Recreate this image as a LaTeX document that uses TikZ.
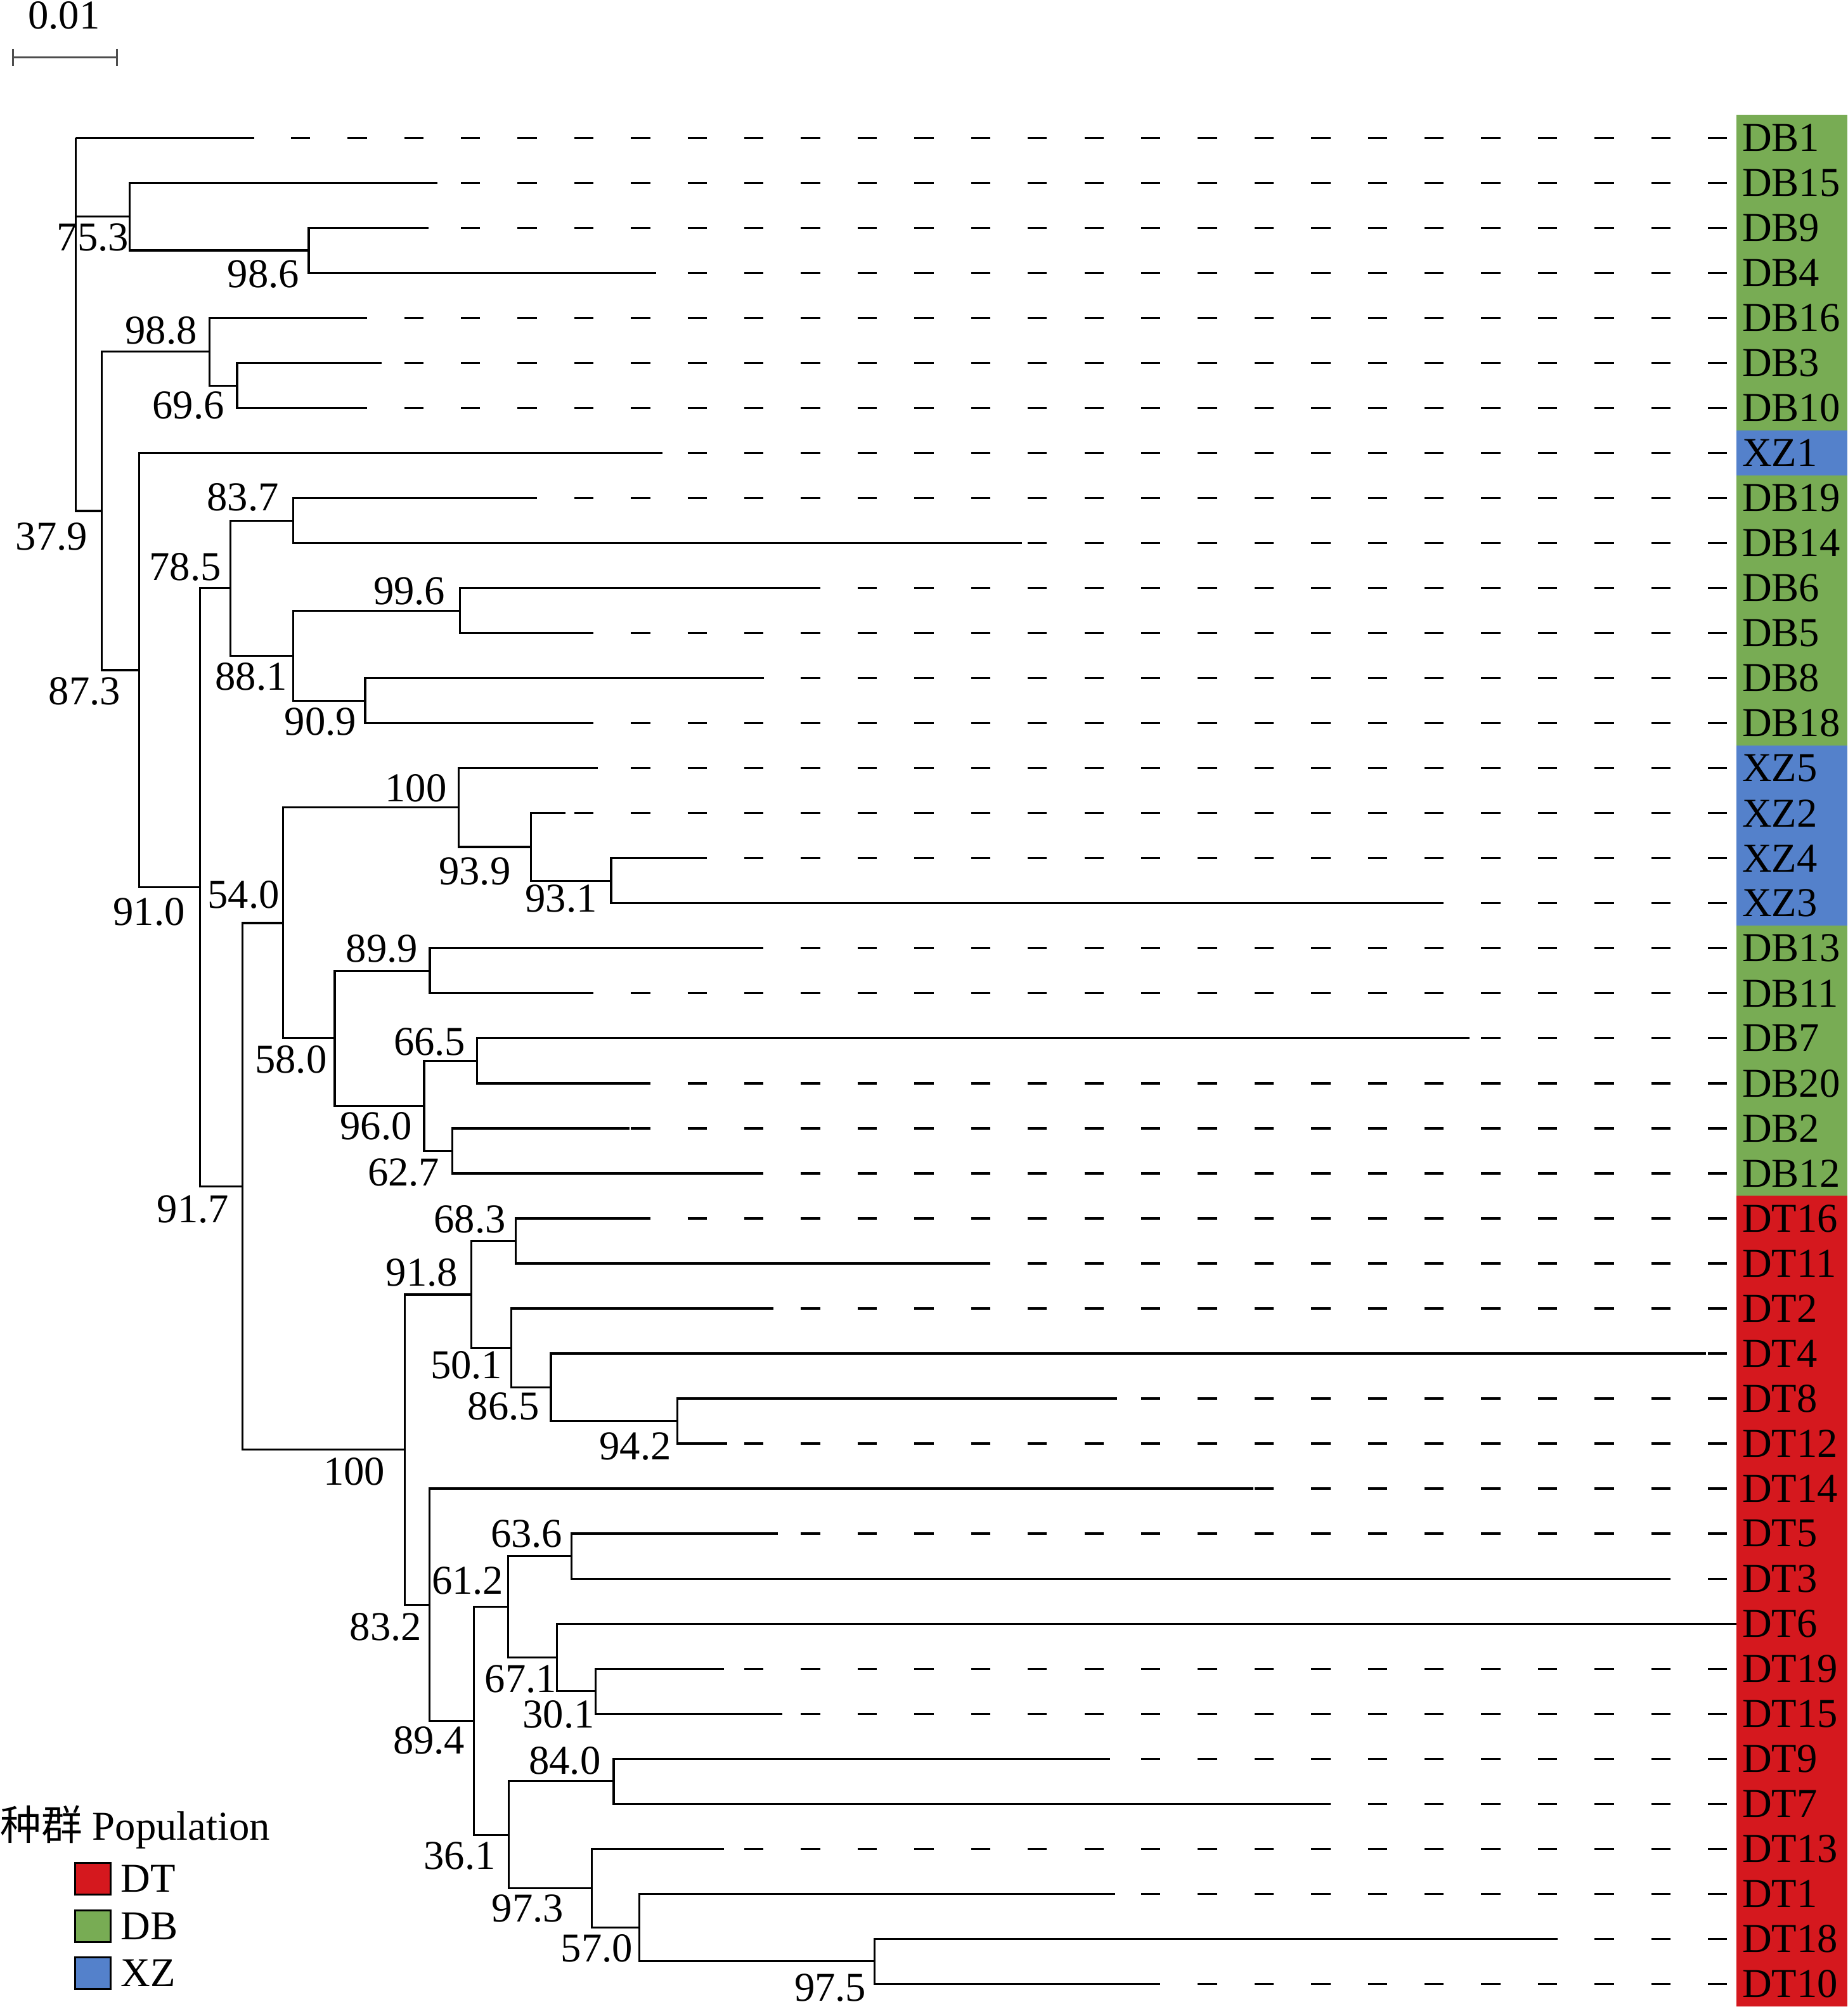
\documentclass[tikz,border=0pt]{standalone}
\usepackage{fontspec}
\setmainfont{Liberation Serif}
\newfontfamily\cjk{Noto Sans CJK SC}
\usetikzlibrary{calc}
\definecolor{dtred}{RGB}{213,24,30}
\definecolor{dbgreen}{RGB}{120,172,84}
\definecolor{xzblue}{RGB}{84,129,203}
\definecolor{bargrey}{RGB}{77,77,77}

\begin{document}
\begin{tikzpicture}[x=1pt, y=-1pt,
    branch/.style={line width=1.6pt},
    leader/.style={line width=1.6pt, dash pattern=on 15pt off 29.24pt},
    boot/.style={font=\fontsize{32}{38}\selectfont, inner sep=0pt},
    taxon/.style={font=\fontsize{32}{38}\selectfont, inner sep=0pt, anchor=west}]
    \useasboundingbox (0,0) rectangle (1442,1568);

    % Scale bar
    \coordinate (sbl) at (10.1,44.9);
    \coordinate (sbr) at (91.4,44.9);
    \draw[bargrey, line width=1.6pt] (sbl) -- (sbr);
    \draw[bargrey, line width=1.6pt] ($(sbl)+(0,-6.8)$) -- ($(sbl)+(0,6.8)$);
    \draw[bargrey, line width=1.6pt] ($(sbr)+(0,-6.8)$) -- ($(sbr)+(0,6.8)$);
    \node[boot] (sblab) at (50,12) {0.01};

    % Tips: label cell, end of branch, dashed leader
    \foreach \name/\xe/\col [count=\i from 0] in {DB1/197.7/dbgreen, DB15/341.4/dbgreen, DB9/334.5/dbgreen, DB4/512/dbgreen,
        DB16/285.5/dbgreen, DB3/298/dbgreen, DB10/285.5/dbgreen, XZ1/517/xzblue, DB19/417.5/dbgreen, DB14/797.5/dbgreen,
        DB6/638.5/dbgreen, DB5/461.5/dbgreen, DB8/595.5/dbgreen, DB18/461.5/dbgreen, XZ5/466.5/xzblue, XZ2/441.4/xzblue,
        XZ4/551.4/xzblue, XZ3/1125.5/xzblue, DB13/594/dbgreen, DB11/461.5/dbgreen, DB7/1146.7/dbgreen, DB20/506/dbgreen,
        DB2/491.5/dbgreen, DB12/594/dbgreen, DT16/504.5/dtred, DT11/772/dtred, DT2/603.5/dtred, DT4/1331.5/dtred,
        DT8/872/dtred, DT12/567.5/dtred, DT14/978/dtred, DT5/607/dtred, DT3/1303.5/dtred, DT6/1355/dtred,
        DT19/565/dtred, DT15/610.5/dtred, DT9/866.5/dtred, DT7/1036.5/dtred, DT13/565/dtred, DT1/870.5/dtred,
        DT18/1215/dtred, DT10/905/dtred} {
        \pgfmathsetmacro\yy{107.6+35.14*\i}
        \pgfmathsetmacro\ph{mod(\xe-227+44.24*30,44.24)}
        \fill[\col] (1355,\yy-17.8) rectangle (1442,\yy+17.8);
        \coordinate (t\name) at (\xe,\yy);
        \node[taxon] (l\name) at (1359.5,\yy) {\name};
        \draw[leader, dash phase=\ph pt] (t\name) -- (l\name.west);
    }

    % Internal nodes
    \coordinate (root) at (59.3,107.6);
    \coordinate (n753) at (101,169.1);
    \coordinate (n986) at (241,195.5);
    \coordinate (n379) at (79.5,398.8);
    \coordinate (n988) at (163.6,274.5);
    \coordinate (n696) at (185,300.9);
    \coordinate (n873) at (108.6,523);
    \coordinate (n910) at (156,692.5);
    \coordinate (n785) at (180,459);
    \coordinate (n837) at (229,406.3);
    \coordinate (n881) at (229,511.7);
    \coordinate (n996) at (359,476.6);
    \coordinate (n909) at (285,546.9);
    \coordinate (n917) at (189.4,925.9);
    \coordinate (n540) at (221,720.4);
    \coordinate (nX100) at (358,630.3);
    \coordinate (n939) at (414.4,661);
    \coordinate (n931) at (477,687.4);
    \coordinate (n580) at (261.3,810.4);
    \coordinate (n899) at (335.5,757.7);
    \coordinate (n960) at (331,863.1);
    \coordinate (n665) at (372.2,828);
    \coordinate (n627) at (353,898.2);
    \coordinate (nD100) at (316,1131.4);
    \coordinate (n918) at (367.7,1010.3);
    \coordinate (n683) at (402.4,968.5);
    \coordinate (n501) at (399.2,1052);
    \coordinate (n865) at (430,1082.8);
    \coordinate (n942) at (528.7,1109.1);
    \coordinate (n832) at (335.2,1252.4);
    \coordinate (n894) at (370,1343);
    \coordinate (n612) at (396.5,1254);
    \coordinate (n636) at (446,1214.5);
    \coordinate (n671) at (434.7,1293.6);
    \coordinate (n301) at (465,1320);
    \coordinate (n361) at (397,1432);
    \coordinate (n840) at (479,1390.2);
    \coordinate (n973) at (462,1473.7);
    \coordinate (n570) at (499,1504.4);
    \coordinate (n975) at (682.5,1530.8);

    % Branches
    \foreach \a/\b in {root/tDB1, root/n753, root/n379,
        n753/tDB15, n753/n986, n986/tDB9, n986/tDB4,
        n379/n988, n379/n873, n988/tDB16, n988/n696, n696/tDB3, n696/tDB10,
        n873/tXZ1, n873/n910, n910/n785, n910/n917,
        n785/n837, n785/n881, n837/tDB19, n837/tDB14,
        n881/n996, n881/n909, n996/tDB6, n996/tDB5, n909/tDB8, n909/tDB18,
        n917/n540, n917/nD100, n540/nX100, n540/n580,
        nX100/tXZ5, nX100/n939, n939/tXZ2, n939/n931, n931/tXZ4, n931/tXZ3,
        n580/n899, n580/n960, n899/tDB13, n899/tDB11,
        n960/n665, n960/n627, n665/tDB7, n665/tDB20, n627/tDB2, n627/tDB12,
        nD100/n918, nD100/n832, n918/n683, n918/n501, n683/tDT16, n683/tDT11,
        n501/tDT2, n501/n865, n865/tDT4, n865/n942, n942/tDT8, n942/tDT12,
        n832/tDT14, n832/n894, n894/n612, n894/n361,
        n612/n636, n612/n671, n636/tDT5, n636/tDT3,
        n671/tDT6, n671/n301, n301/tDT19, n301/tDT15,
        n361/n840, n361/n973, n840/tDT9, n840/tDT7,
        n973/tDT13, n973/n570, n570/tDT1, n570/n975, n975/tDT18, n975/tDT10}
        \draw[branch] (\a) |- (\b);

    % Bootstrap values
    \foreach \nm/\val/\bx/\by in {753/75.3/72.5/185.5, 986/98.6/205.5/214, 988/98.8/125.8/257.8, 696/69.6/147/316.5,
        379/37.9/40.3/418.8, 837/83.7/189.5/388, 785/78.5/144.6/442.5, 996/99.6/319.5/461.5,
        881/88.1/196/528, 909/90.9/250/563.5, 873/87.3/66/539.5, X100/100/324.5/615,
        939/93.9/370.5/680, 931/93.1/438/701.4, 540/54.0/190/698.5, 910/91.0/116.3/711.8,
        899/89.9/298/740.5, 580/58.0/227/827, 665/66.5/335.3/813, 960/96.0/293.5/879,
        627/62.7/315/915, 917/91.7/150.7/943.7, 683/68.3/366.6/951.7, 918/91.8/329.3/993.2,
        501/50.1/364/1065.5, 865/86.5/393/1097.5, 942/94.2/495.8/1128.7, D100/100/276.5/1148.7,
        636/63.6/411/1197.2, 612/61.2/365/1234, 832/83.2/301/1270, 671/67.1/406.5/1310.5,
        301/30.1/436/1338, 894/89.4/334.8/1358.4, 840/84.0/440.8/1374, 361/36.1/358.8/1448.5,
        973/97.3/411.8/1489.7, 570/57.0/465.8/1520.9, 975/97.5/648/1551.6}
        \node[boot] (b\nm) at (\bx,\by) {\val};

    % Legend
    \node[boot, anchor=base west] (legtitle) at (0,1436) {{\cjk 种群} Population};
    \foreach \lab/\col/\yy in {DT/dtred/1466.2, DB/dbgreen/1503.4, XZ/xzblue/1540} {
        \draw[line width=1.5pt, fill=\col] (58.7,\yy-12.4) rectangle (86.3,\yy+12.4);
        \node[taxon] (key\lab) at (94,\yy) {\lab};
    }
\end{tikzpicture}
\end{document}
